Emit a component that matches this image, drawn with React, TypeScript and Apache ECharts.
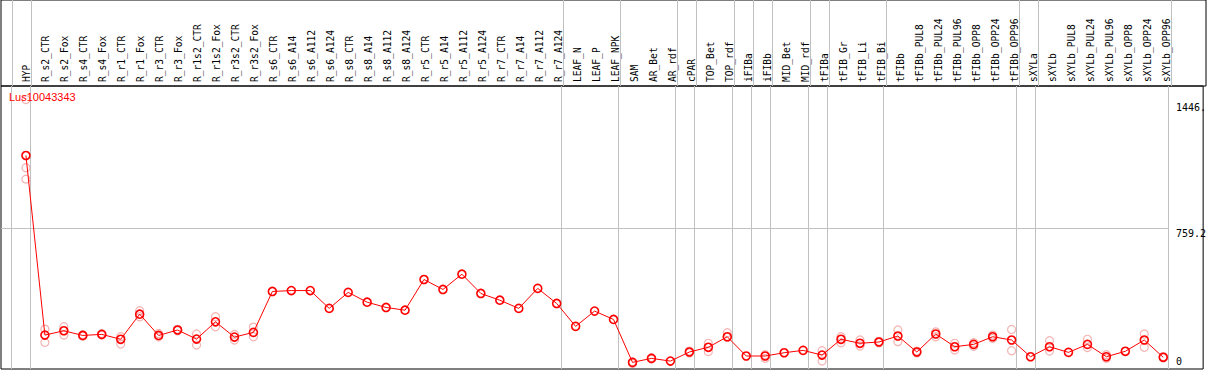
import React, { useEffect, useRef } from "react";
import * as echarts from "echarts";

const geneName = "Lus10043343";

const categories = [
  "HYP", "R_s2_CTR", "R_s2_Fox", "R_s4_CTR", "R_s4_Fox", "R_r1_CTR", "R_r1_Fox", "R_r3_CTR", "R_r3_Fox",
  "R_r1s2_CTR", "R_r1s2_Fox", "R_r3s2_CTR", "R_r3s2_Fox", "R_s6_CTR", "R_s6_A14", "R_s6_A112", "R_s6_A124",
  "R_s8_CTR", "R_s8_A14", "R_s8_A112", "R_s8_A124", "R_r5_CTR", "R_r5_A14", "R_r5_A112", "R_r5_A124",
  "R_r7_CTR", "R_r7_A14", "R_r7_A112", "R_r7_A124", "LEAF_N", "LEAF_P", "LEAF_NPK", "SAM", "AR_Bet", "AR_rdf",
  "cPAR", "TOP_Bet", "TOP_rdf", "iFIBa", "iFIBb", "MID_Bet", "MID_rdf", "tFIBa", "tFIB_Gr", "tFIB_Li", "tFIB_Bi",
  "tFIBb", "tFIBb_PUL8", "tFIBb_PUL24", "tFIBb_PUL96", "tFIBb_OPP8", "tFIBb_OPP24", "tFIBb_OPP96", "sXYLa",
  "sXYLb", "sXYLb_PUL8", "sXYLb_PUL24", "sXYLb_PUL96", "sXYLb_OPP8", "sXYLb_OPP24", "sXYLb_OPP96",
];

const meanValues = [
  1158, 170, 194, 168, 174, 147, 285, 168, 198, 148, 243, 159, 185, 410, 415, 415, 317, 405, 351, 322, 307,
  476, 421, 505, 399, 362, 317, 427, 344, 218, 302, 256, 20, 42, 27, 77, 103, 161, 55, 55, 73, 86, 60, 147,
  125, 132, 165, 77, 176, 106, 119, 161, 143, 51, 106, 75, 119, 51, 81, 143, 48,
];

const replicateHigh = [
  1466, 203, 216, 172, 178, 161, 304, 179, 202, 176, 271, 174, 214, null, null, null, null, null, null, null, null,
  null, null, null, null, null, null, null, null, null, null, null, 22, 46, null, 82, 125, 183, null, 62, null, null,
  84, 161, 143, 136, 198, 82, 188, 125, 128, 170, 201, null, 139, null, 147, 62, null, 176, 52,
];

const replicateLow = [
  1028, 130, 170, 164, 170, 121, 271, 161, 194, 115, 216, 143, 161, null, null, null, null, null, null, null, null,
  null, null, null, null, null, null, null, null, null, null, null, 14, 38, null, 72, 79, 158, null, 42, null, null,
  27, 128, 110, 128, 134, 72, 161, 88, 108, 152, 84, null, 82, null, 101, 42, null, 103, 44,
];

const replicateThird = [1091];

// group separators, in category index units
const separators = [-0.75, 0.25, 28.25, 31.25, 34.25, 35.25, 37.25, 38.25, 39.25, 41.25, 42.25, 45.25, 52.25, 53.25, 60.25];

const yTickValues = [0, 759.2, 1446];
const yTickLabels = ["0", "759.2", "1446."];
const yTickStyles = ["bot", "mid", "top"];

const MONO = "DejaVu Sans Mono";

export default function App() {
  const ref = useRef<HTMLDivElement>(null);

  useEffect(() => {
    if (!ref.current) return;
    const chart = echarts.init(ref.current, null, { renderer: "svg" });

    const xMin = -25 / 19;
    const xMax = xMin + 1205 / 19;
    const pxPerUnit = (366 - 228) / 759.2;
    const yMin = -3 / pxPerUnit;
    const yMax = (366 - 86) / pxPerUnit;

    const toPairs = (arr: (number | null)[]) =>
      arr.map((v, i) => (v == null ? null : [i, v])).filter((d) => d != null);

    const sepLineStyle = { color: "#c0c0c0", type: "solid", width: 1 };

    const option: any = {
      animation: false,
      backgroundColor: "#fff",
      title: {
        text: geneName,
        left: 9,
        top: 91,
        padding: 0,
        textStyle: { color: "#ff0000", fontSize: 11, fontWeight: "normal", fontFamily: "Liberation Sans" },
      },
      grid: [
        {
          left: 1, right: 3, top: 86, bottom: 1,
          show: true, borderColor: "#000", borderWidth: 1, backgroundColor: "transparent",
        },
        {
          left: 1, right: 3, top: 0, height: 86,
          show: true, borderColor: "#000", borderWidth: 1, backgroundColor: "transparent",
        },
      ],
      xAxis: [
        {
          type: "value",
          gridIndex: 0,
          min: xMin,
          max: xMax,
          show: false,
          splitLine: { show: false },
        },
        {
          type: "value",
          gridIndex: 1,
          min: xMin,
          max: xMax,
          position: "bottom",
          axisLine: { show: false, onZero: false },
          axisTick: { show: false },
          splitLine: { show: false },
          axisLabel: {
            inside: true,
            customValues: categories.map((_, i) => i),
            formatter: (v: number) => categories[Math.round(v)] ?? "",
            rotate: 90,
            margin: 4,
            padding: [5, 0, 0, 0],
            color: "#000",
            fontFamily: MONO,
            fontSize: 9.6,
          },
        },
      ],
      yAxis: [
        {
          type: "value",
          gridIndex: 0,
          min: yMin,
          max: yMax,
          position: "right",
          offset: -35.25,
          axisLine: { show: false, onZero: false },
          axisTick: { show: false },
          splitLine: { show: false },
          axisLabel: {
            customValues: yTickValues,
            formatter: (v: number) => {
              const k = yTickValues.findIndex((t) => Math.abs(t - v) < 1e-6);
              return k < 0 ? "" : `{${yTickStyles[k]}|${yTickLabels[k]}}`;
            },
            margin: 8,
            color: "#000",
            fontFamily: MONO,
            fontSize: 10,
            rich: {
              top: { fontFamily: MONO, fontSize: 10, color: "#000", padding: [8, 0, 0, 0] },
              mid: { fontFamily: MONO, fontSize: 10, color: "#000", padding: [10, 0, 0, 0] },
              bot: { fontFamily: MONO, fontSize: 10, color: "#000", padding: [0, 0, 9, 0] },
            },
          },
        },
        {
          type: "value",
          gridIndex: 1,
          min: 0,
          max: 1,
          show: false,
          splitLine: { show: false },
        },
      ],
      series: [
        {
          type: "scatter",
          name: "replicates",
          xAxisIndex: 0,
          yAxisIndex: 0,
          data: [...toPairs(replicateHigh), ...toPairs(replicateLow), ...toPairs(replicateThird)],
          symbol: "circle",
          symbolSize: 8,
          itemStyle: { color: "rgba(0,0,0,0)", borderColor: "#f0a0a0", borderWidth: 1.2 },
          z: 2,
          silent: true,
        },
        {
          type: "line",
          name: geneName,
          xAxisIndex: 0,
          yAxisIndex: 0,
          data: meanValues.map((v, i) => [i, v]),
          symbol: "circle",
          symbolSize: 8,
          showAllSymbol: true,
          itemStyle: { color: "rgba(0,0,0,0)", borderColor: "#ff0000", borderWidth: 1.6 },
          lineStyle: { color: "#ff0000", width: 1 },
          z: 3,
          markLine: {
            silent: true,
            symbol: ["none", "none"],
            label: { show: false },
            lineStyle: sepLineStyle,
            emphasis: { disabled: true },
            data: [
              ...separators.map((s) => ({ xAxis: s })),
              [{ coord: [xMin, 759.2] }, { coord: [60.25, 759.2] }],
            ],
            z: 1,
          },
        },
        {
          type: "line",
          name: "separators",
          xAxisIndex: 1,
          yAxisIndex: 1,
          data: [],
          silent: true,
          markLine: {
            silent: true,
            symbol: ["none", "none"],
            label: { show: false },
            lineStyle: sepLineStyle,
            emphasis: { disabled: true },
            data: separators.map((s) => ({ xAxis: s })),
          },
        },
      ],
    };

    chart.setOption(option);
    return () => chart.dispose();
  }, []);

  return (
    <div
      ref={ref}
      style={{ position: "absolute", left: 0, top: 0, width: 1209, height: 370 }}
    />
  );
}
